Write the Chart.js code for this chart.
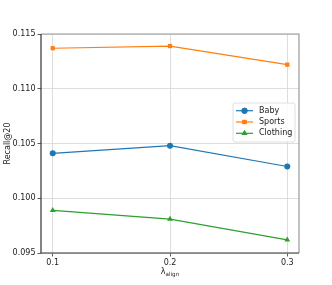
<!DOCTYPE html>
<html><head><meta charset="utf-8">
<script src="https://cdn.jsdelivr.net/npm/chart.js@4"></script>
<style>html,body{margin:0;padding:0;background:#fff;}#wrap{width:332px;height:285px;}</style>
</head><body><div id="wrap"><canvas id="c" width="332" height="285"></canvas></div>
<script>
const xValues = [0.1, 0.2, 0.3];
const xTickLabels = ['0.1', '0.2', '0.3'];
const yTicks = [0.095, 0.100, 0.105, 0.110, 0.115];
const seriesNames = ['Baby', 'Sports', 'Clothing'];
const baby = [0.1041, 0.1048, 0.1029];
const sports = [0.1137, 0.1139, 0.1122];
const clothing = [0.0989, 0.0981, 0.0962];
const colors = ['#1f77b4', '#ff7f0e', '#2ca02c'];
const markers = ['circle', 'rect', 'triangle'];
const FONT = "'DejaVu Sans', sans-serif";

const allSeries = [baby, sports, clothing];
const datasets = allSeries.map((vals, i) => ({
  label: seriesNames[i],
  data: vals.map((v, j) => ({x: xValues[j], y: v})),
  borderColor: colors[i], backgroundColor: colors[i],
  borderWidth: 1.2, pointStyle: markers[i],
  pointRadius: markers[i] === 'triangle' ? 3.4 : 3, pointBorderWidth: 0,
  tension: 0
}));

const decor = {
  id: 'decor',
  afterDraw(chart) {
    const ctx = chart.ctx, a = chart.chartArea;
    ctx.save();
    ctx.lineWidth = 1.2;
    ctx.strokeStyle = '#9a9a9a';
    ctx.beginPath(); ctx.moveTo(a.left, a.top); ctx.lineTo(a.right, a.top); ctx.lineTo(a.right, a.bottom); ctx.stroke();
    ctx.strokeStyle = '#333';
    ctx.beginPath(); ctx.moveTo(a.left, a.top); ctx.lineTo(a.left, a.bottom); ctx.lineTo(a.right, a.bottom); ctx.stroke();
    ctx.fillStyle = '#222';
    ctx.font = '8px ' + FONT;
    ctx.translate(8, (a.top + a.bottom) / 2);
    ctx.rotate(-Math.PI / 2);
    ctx.textAlign = 'center'; ctx.textBaseline = 'middle';
    ctx.fillText('Recall@20', 0, 0);
    ctx.setTransform(1, 0, 0, 1, 0, 0);
    const cx = (a.left + a.right) / 2;
    ctx.font = '8px ' + FONT;
    ctx.textAlign = 'left'; ctx.textBaseline = 'alphabetic';
    const lw = ctx.measureText('λ').width;
    ctx.font = '5.6px ' + FONT;
    const sw = ctx.measureText('align').width;
    const x0 = cx - (lw + sw) / 2;
    ctx.font = '8px ' + FONT;
    ctx.fillText('λ', x0, 274);
    ctx.font = '5.6px ' + FONT;
    ctx.fillText('align', x0 + lw, 276);
    const bx = 233, by = 103, bw = 62, bh = 39;
    ctx.fillStyle = 'rgba(255,255,255,0.85)';
    ctx.strokeStyle = '#d8d8d8'; ctx.lineWidth = 0.8;
    ctx.beginPath(); ctx.roundRect(bx, by, bw, bh, 2); ctx.fill(); ctx.stroke();
    ctx.font = '8px ' + FONT; ctx.textBaseline = 'middle';
    seriesNames.forEach((n, i) => {
      const y = 110.7 + i * 11.3;
      ctx.strokeStyle = colors[i]; ctx.lineWidth = 1.2;
      ctx.beginPath(); ctx.moveTo(236, y); ctx.lineTo(253, y); ctx.stroke();
      ctx.fillStyle = colors[i];
      Chart.helpers.drawPoint(ctx, {pointStyle: markers[i], radius: markers[i]==='triangle'?3.4:3, borderWidth: 0}, 244.5, y);
      ctx.fill();
      ctx.fillStyle = '#222';
      ctx.fillText(n, 259, y);
    });
    ctx.restore();
  }
};

new Chart(document.getElementById('c'), {
  type: 'line',
  data: {datasets},
  plugins: [decor],
  options: {
    responsive: false, animation: false,
    layout: {padding: {top: 34, right: 33, left: 0, bottom: 0}},
    plugins: {legend: {display: false}, tooltip: {enabled: false}},
    scales: {
      x: {
        type: 'linear', min: 0.09, max: 0.31,
        afterBuildTicks(s) { s.ticks = xValues.map(v => ({value: v})); },
        afterFit(s) { s.height = 32; },
        border: {display: false},
        grid: {color: '#d6d6d6', lineWidth: 0.8, borderDash: [2, 1.3], drawTicks: true, tickLength: 3.5, tickColor: '#333', tickBorderDash: [], tickWidth: 0.8},
        ticks: {color: '#222', font: {family: FONT, size: 8}, padding: 2, maxRotation: 0,
          callback: (v, i) => xTickLabels[i]}
      },
      y: {
        type: 'linear', min: 0.095, max: 0.115,
        afterBuildTicks(s) { s.ticks = yTicks.map(v => ({value: v})); },
        afterFit(s) { s.width = 41; },
        border: {display: false},
        grid: {color: '#d6d6d6', lineWidth: 0.8, borderDash: [2, 1.3], drawTicks: true, tickLength: 3.5, tickColor: '#333', tickBorderDash: [], tickWidth: 0.8},
        ticks: {color: '#222', font: {family: FONT, size: 8}, padding: 2,
          callback: v => v.toFixed(3)}
      }
    }
  }
});
</script>
</body></html>
